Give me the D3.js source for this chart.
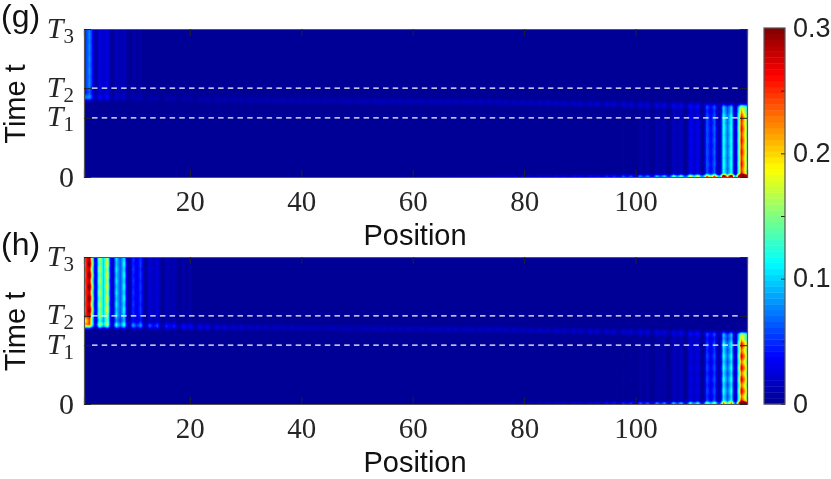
<!DOCTYPE html>
<html><head><meta charset="utf-8">
<script src="https://cdn.jsdelivr.net/npm/d3@7/dist/d3.min.js"></script>
<style>html,body{margin:0;padding:0;background:#fff;overflow:hidden}canvas{position:absolute}svg{position:absolute;left:0;top:0}</style>
</head><body><div id="chart"></div>
<script>
// ---- chart values ----
const xTicks = [20, 40, 60, 80, 100];
const timeTicks = [0, 2, 3, 5];
const timeNames = ["0", "T1", "T2", "T3"];
const cbarTicks = [0, 0.05, 0.1, 0.15, 0.2, 0.25, 0.3];
const cbarLabels = [0, 0.1, 0.2, 0.3];
const panelNames = ["(g)", "(h)"];
const timeStep = 0.05;

// amplitude of the state at the left end, site 1 upward
const gLeftAmp = [.04,.078,.004,.03,.032,.002,.016,.017,.001,.007,.008,0,.003,.003,0,.001,.001,0];
const hLeftAmp = [.22,.30,.012,.175,.19,.012,.105,.115,.006,.052,.054,.003,.027,.027,.002,.014,.014,.001,.007,.007,0,.003,.003,0,.0015,.0015,0];
// amplitude of the state at the right end, site 120 downward
const gRightAmp = [.15,.26,.004,.125,.125,.003,.066,.064,.002,.034,.034,.001,.019,.019,0,.011,.011,0,.007,.007,0,.005,.005,0,.003,.003,0,.002,.002,0];
const hRightAmp = [.16,.255,.004,.115,.115,.003,.058,.056,.002,.03,.03,.001,.017,.017,0,.01,.01,0,.007,.007,0,.005,.005,0,.003,.003,0,.002,.002,0];
// transfer band: per group of three sites, left to right
const gBandPeak = [.05,.03,.018,.013,.012,.013,.013,.014,.015,.015,.016,.016,.016,.016,.016,.017,.017,.018,.018,.018,.018,.019,.019,.02,.02,.021,.021,.022,.023,.024,.025,.026,.027,.029,.03,.032,.034,.037,.04,.045];
const hBandPeak = [.1,.1,.085,.07,.055,.048,.042,.036,.03,.026,.023,.021,.019,.018,.017,.017,.017,.018,.018,.018,.018,.019,.019,.02,.02,.021,.021,.022,.023,.024,.025,.026,.027,.029,.03,.032,.034,.037,.04,.045];
const bandDip = [.15,.15,.15,.15,.15,.2,.25,.3,.4,.5,.6,.7,.75,.8,.8,.8,.8,.8,.8,.8,.8,.8,.8,.8,.75,.7,.65,.6,.5,.45,.4,.35,.3,.3,.25,.25,.2,.2,.2,.2];
const bandTime = [2.68,2.68,2.67,2.66,2.65,2.64,2.63,2.62,2.61,2.61,2.6,2.59,2.59,2.58,2.58,2.57,2.57,2.56,2.56,2.55,2.55,2.54,2.54,2.53,2.53,2.52,2.51,2.5,2.49,2.48,2.47,2.46,2.45,2.44,2.43,2.42,2.41,2.4,2.39,2.38];
const bandKernel = [1, .78, .4, .12];
// thin line at t = 0, groups of three sites counted from the right end
const gBottomPeak = [.3,.31,.25,.2,.16,.12,.095,.075,.06,.05,.045,.04,.036,.032,.028,.024,.02,.016,.013,.01];
const hBottomPeak = [.18,.15,.13,.12,.105,.09,.078,.064,.052,.045,.04,.036,.032,.028,.024,.02,.016,.014,.011,.009];
const bottomEnv = [.85, .6, .08];
// time envelopes, one value per time row (row = t / 0.05)
const rightEnv = [1,1,1,1,1,1,1,1,1,1,1,1,1,1,1,1,1,1,1,1,1,1,1,1,1,1,1,1,1,1,1,1,1,1,1,1,1,1,1,1,.98,.96,.93,.89,.84,.77,.68,.54,.32,.1,0];
const leftEnv = [0,.03,.15,.35,.5,.6,.68,.76,.84,.92,1,1,1,1,1,1,1,1,1,1,1,1,1,1,1,1,1,1,1,1,1,1,1,1,1,1,1,1,1,1,1,1,1,1,1,1,1,1,1,1,1];
// slow beating along time, rows 0 to 100
const ripple = [.6,1,.8,.1,-.6,-1,-.7,.1,.8,1,.6,-.1,-.8,-1,-.5,.2,.9,1,.5,-.2,-.8,-1,-.5,.3,.9,.9,.4,-.3,-.9,-1,-.4,.3,.9,.9,.4,-.4,-.9,-.9,-.3,.4,.9,.9,.3,-.4,-.9,-.9,-.3,.5,1,.8,.2,-.5,-1,-.8,-.2,.5,1,.8,.1,-.6,-1,-.8,-.1,.6,1,.7,0,-.7,-1,-.6,.1,.7,1,.6,-.1,-.8,-1,-.5,.2,.8,1,.5,-.2,-.8,-.9,-.4,.3,.9,.9,.4,-.3,-.9,-.9,-.3,.4,.9,.9,.3,-.4];
const gRippleDepth = [.03, .03];
const hRippleDepth = [.07, .08];
// cross-section of one lobe of a pair: distance from the pair centre (sites) to relative height
const lobeDist = [0, .35, .7, .95, 1.15, 1.5];
const lobeHeight = [.55, .75, 1, .6, .25, 0];

// ---- layout ----
const W = 831, H = 479;
const frames = [{top: 29, bottom: 177}, {top: 257, bottom: 404}];
const left = 84, right = 747;
const sets = [
  {name: panelNames[0], leftAmp: gLeftAmp, rightAmp: gRightAmp, band: gBandPeak, bottom: gBottomPeak, depth: gRippleDepth},
  {name: panelNames[1], leftAmp: hLeftAmp, rightAmp: hRightAmp, band: hBandPeak, bottom: hBottomPeak, depth: hRippleDepth}
];

const jet = d3.scaleLinear()
  .domain([0, .125, .375, .625, .875, 1])
  .range(["#00008f", "#0000ff", "#00ffff", "#ffff00", "#ff0000", "#800000"])
  .interpolate(d3.interpolateRgb).clamp(true);
const palette = d3.range(64).map(i => jet((i + .5) / 64));
const colour = d3.scaleQuantize().domain([0, .3]).range(palette);
const lobe = d3.scaleLinear().domain(lobeDist).range(lobeHeight).clamp(true);

function buildGrid(p) {
  const nRows = ripple.length, grid = [];
  for (let r = 0; r < nRows; r++) {
    const row = new Array(120).fill(0);
    for (let s = 1; s <= 120; s++) {
      let v = 0;
      const li = s - 1, ri = 120 - s;
      if (li < p.leftAmp.length && r >= 50) {
        const sign = li % 3 === 0 ? -1 : 1;
        v += p.leftAmp[li] * leftEnv[r - 50] * (1 + p.depth[0] * sign * ripple[r]);
      }
      if (ri < p.rightAmp.length && r <= 50) {
        v += p.rightAmp[ri] * rightEnv[r] * (1 + p.depth[1] * ripple[r]);
      }
      const k = Math.floor(li / 3);
      const isDip = s <= 60 ? li % 3 === 2 : ri % 3 === 2;
      const dist = Math.abs(r - bandTime[k] / timeStep);
      const d0 = Math.floor(dist), fr = dist - d0;
      if (d0 < bandKernel.length) {
        const a = bandKernel[d0], b = d0 + 1 < bandKernel.length ? bandKernel[d0 + 1] : 0;
        v += p.band[k] * (isDip ? bandDip[k] : 1) * (a + (b - a) * fr);
      }
      const bk = Math.floor(ri / 3);
      if (r < bottomEnv.length && bk < p.bottom.length) {
        v += p.bottom[bk] * (ri % 3 === 2 ? .35 : 1) * bottomEnv[r];
      }
      row[s - 1] = v;
    }
    grid.push(row);
  }
  return grid;
}

// value of one time row at continuous position u (site number)
function rowValue(row, u) {
  const at = s => row[Math.max(1, Math.min(120, s)) - 1];
  const linear = () => {
    const s0 = Math.max(1, Math.min(119, Math.floor(u))), t = u - s0;
    return at(s0) * (1 - t) + at(s0 + 1) * t;
  };
  if (u <= 3 || u >= 118) return linear();        // end pairs keep their plain profile
  const c = u <= 60
    ? Math.min(58.5, 1.5 + 3 * Math.round((u - 1.5) / 3))
    : Math.max(62.5, 119.5 - 3 * Math.round((119.5 - u) / 3));
  const d = u - c, a = Math.abs(d), side = d < 0 ? -1 : 1;
  const lo = at(c - .5), hi = at(c + .5);
  if (a <= .7) {
    const t = (d + .7) / 1.4;
    return (lo * (1 - t) + hi * t) * lobe(a);
  }
  const near = side < 0 ? lo : hi, dip = at(c + side * 1.5);
  return dip + (near - dip) * lobe(a);
}

const root = d3.select("#chart");
const svg = root.append("svg").attr("width", W).attr("height", H);
const serif = "'Liberation Serif', serif", sans = "'Liberation Sans', Arial, sans-serif";
const ink = "#262626", frameCol = "#555";

sets.forEach((p, i) => {
  const f = frames[i];
  const x = d3.scaleLinear().domain([1, 120]).range([left, right]);
  const y = d3.scaleLinear().domain([0, 5]).range([f.bottom, f.top]);
  const grid = buildGrid(p);
  const wPx = right - left, hPx = f.bottom - f.top;
  const canvas = root.insert("canvas", "svg")
    .attr("width", wPx).attr("height", hPx)
    .style("left", left + "px").style("top", f.top + "px").node();
  const ctx = canvas.getContext("2d");
  const img = ctx.createImageData(wPx, hPx);
  for (let py = 0; py < hPx; py++) {
    const rf = Math.max(0, Math.min(ripple.length - 1.001, y.invert(f.top + py + .5) / timeStep));
    const r0 = Math.floor(rf), tr = rf - r0;
    for (let px = 0; px < wPx; px++) {
      const u = x.invert(left + px + .5);
      const v = rowValue(grid[r0], u) * (1 - tr) + rowValue(grid[r0 + 1], u) * tr;
      const c = d3.rgb(colour(v)), o = (py * wPx + px) * 4;
      img.data[o] = c.r; img.data[o + 1] = c.g; img.data[o + 2] = c.b; img.data[o + 3] = 255;
    }
  }
  ctx.putImageData(img, 0, 0);

  const g = svg.append("g");
  // dashed reference lines at T1 and T2
  g.selectAll("line.ref").data(timeTicks.slice(1, 3)).join("line").attr("class", "ref")
    .attr("x1", left + 8).attr("x2", right - 6)
    .attr("y1", d => y(d)).attr("y2", d => y(d))
    .attr("stroke", "#fff").attr("stroke-width", 1.3).attr("stroke-dasharray", "5.5 4.2");

  const bottomAxis = d3.axisBottom(x).tickValues(xTicks).tickSize(-7).tickFormat(d3.format("d"));
  const gx = g.append("g").attr("transform", `translate(0,${f.bottom})`).call(bottomAxis);
  gx.selectAll("text").attr("y", 34).attr("dy", 0).attr("fill", ink)
    .style("font-family", serif).style("font-size", "29px");
  const topAxis = d3.axisTop(x).tickValues(xTicks).tickSize(-7).tickFormat("");
  const gt = g.append("g").attr("transform", `translate(0,${f.top})`).call(topAxis);

  const leftAxis = d3.axisLeft(y).tickValues(timeTicks).tickSize(-7).tickFormat((d, j) => timeNames[j]);
  const gy = g.append("g").attr("transform", `translate(${left},0)`).call(leftAxis);
  gy.selectAll("text").attr("x", -10).attr("dy", 0).attr("fill", ink)
    .style("font-family", serif).style("font-size", "30px")
    .each(function (d, j) {
      const t = d3.select(this), name = timeNames[j];
      if (name === "0") { t.attr("y", 9); return; }
      t.text(null).attr("y", 8);
      t.append("tspan").style("font-style", "italic").text(name[0]);
      t.append("tspan").attr("dy", 5).style("font-size", "21px").text(name[1]);
    });
  const rightAxis = d3.axisRight(y).tickValues(timeTicks).tickSize(-7).tickFormat("");
  const gr = g.append("g").attr("transform", `translate(${right},0)`).call(rightAxis);

  [gx, gt, gy, gr].forEach(a => {
    a.select(".domain").attr("stroke", frameCol).attr("stroke-width", 1.2);
    a.selectAll(".tick line").attr("stroke", "#222").attr("stroke-width", 1);
  });

  g.append("text").attr("x", 1).attr("y", f.top - 2).text(p.name)
    .attr("fill", "#111").style("font-family", sans).style("font-size", "32px");
  g.append("text").attr("transform", `translate(25,${(f.top + f.bottom) / 2 + 1}) rotate(-90)`)
    .attr("text-anchor", "middle").text("Time t")
    .attr("fill", "#111").style("font-family", sans).style("font-size", "29px");
  g.append("text").attr("x", 415).attr("y", f.bottom + 68).attr("text-anchor", "middle").text("Position")
    .attr("fill", "#111").style("font-family", sans).style("font-size", "29px");
});

// colour bar
const cbL = 764, cbR = 785, cbT = 28, cbB = 404;
const cy = d3.scaleLinear().domain([0, .3]).range([cbB, cbT]);
const cb = svg.append("g");
cb.selectAll("rect").data(palette).join("rect")
  .attr("x", cbL).attr("width", cbR - cbL)
  .attr("y", (d, i) => cy((i + 1) / 64 * .3))
  .attr("height", (d, i) => cy(i / 64 * .3) - cy((i + 1) / 64 * .3) + .4)
  .attr("fill", d => d);
const cbAxis = d3.axisRight(cy).tickValues(cbarTicks).tickSize(-4)
  .tickFormat(d => cbarLabels.some(l => Math.abs(l - d) < 1e-9) ? d3.format("~g")(d) : "");
const ca = cb.append("g").attr("transform", `translate(${cbR},0)`).call(cbAxis);
ca.select(".domain").attr("stroke", "none");
ca.selectAll(".tick line").attr("stroke", "#222").attr("stroke-width", 1);
ca.selectAll("text").attr("x", 8).attr("y", 8).attr("dy", 0).attr("fill", "#222")
  .style("font-family", sans).style("font-size", "27px");
cb.append("rect").attr("x", cbL).attr("y", cbT).attr("width", cbR - cbL).attr("height", cbB - cbT)
  .attr("fill", "none").attr("stroke", frameCol).attr("stroke-width", 1.2);
</script></body></html>
